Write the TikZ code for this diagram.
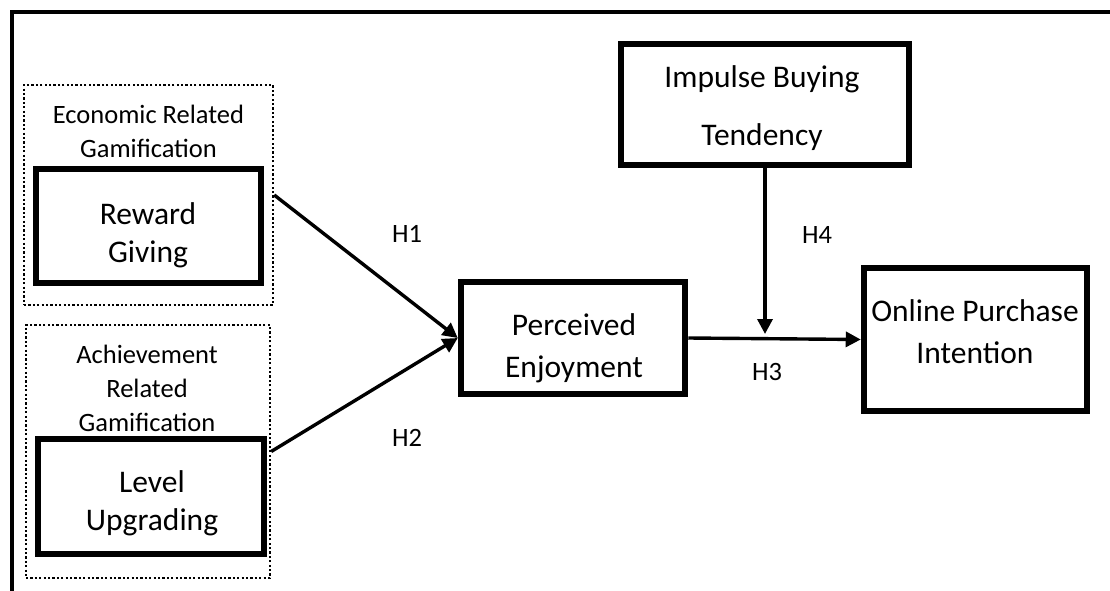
\documentclass[tikz,border=0pt]{standalone}
\usepackage{fontspec}
\setmainfont{Carlito}
\usetikzlibrary{arrows.meta}
\begin{document}
\begin{tikzpicture}[x=1pt,y=-1pt,
  mainbox/.style={draw, line width=6.5pt, inner sep=0pt},
  group/.style={draw, line width=2.4pt, dash pattern=on 2.2pt off 2.2pt, inner sep=0pt},
  big/.style={align=center, inner sep=0pt, font=\fontsize{31.5}{38}\selectfont},
  bigwide/.style={align=center, inner sep=0pt, font=\fontsize{31.5}{42}\selectfont},
  small/.style={align=center, inner sep=0pt, font=\fontsize{26.5}{34}\selectfont},
  hyp/.style={inner sep=0pt, font=\fontsize{26.5}{32}\selectfont},
  link/.style={line width=3.4pt, -{Triangle[length=15pt,width=15pt]}}]
\useasboundingbox (0,0) rectangle (1110,591);
\draw[line width=3.4pt] (1110,12) -- (12,12) -- (12,591);
% groups
\node[group, minimum width=249pt, minimum height=220pt] (grp1) at (148.5,195) {};
\node[group, minimum width=244pt, minimum height=253pt] (grp2) at (148,451.5) {};
% boxes
\node[mainbox, minimum width=225pt, minimum height=114pt] (rew) at (148.5,226) {};
\node[mainbox, minimum width=226pt, minimum height=115pt] (lvl) at (151,496.5) {};
\node[mainbox, minimum width=224pt, minimum height=112pt] (pe) at (573,338) {};
\node[mainbox, minimum width=288pt, minimum height=121pt] (ibt) at (765,104.5) {};
\node[mainbox, minimum width=223pt, minimum height=143pt] (opi) at (975.5,339.5) {};
% texts
\node[big] (rewt) at (148,235) {Reward\\Giving};
\node[big] (lvlt) at (152,503) {Level\\Upgrading};
\node[bigwide] (pet) at (574,348) {Perceived\\Enjoyment};
\node[align=center, inner sep=0pt, font=\fontsize{31.5}{58}\selectfont] (ibtt) at (762,108.5) {Impulse Buying\\Tendency};
\node[bigwide] (opit) at (975,331.5) {Online Purchase\\Intention};
\node[small] (g1t) at (148.5,131) {Economic Related\\Gamification};
\node[small] (g2t) at (147,388.5) {Achievement\\Related\\Gamification};
% hypotheses
\node[hyp] (h1) at (407,234) {H1};
\node[hyp] (h2) at (407,438) {H2};
\node[hyp] (h3) at (767,372) {H3};
\node[hyp] (h4) at (817,235) {H4};
% connectors
\coordinate (h4end) at (765,334);
\draw[link] (grp1.east) -- (pe.west);
\draw[link] (grp2.east) -- (pe.west);
\draw[link] (pe.east) -- (opi.west);
\draw[link] (ibt.south) -- (h4end);
\end{tikzpicture}
\end{document}
